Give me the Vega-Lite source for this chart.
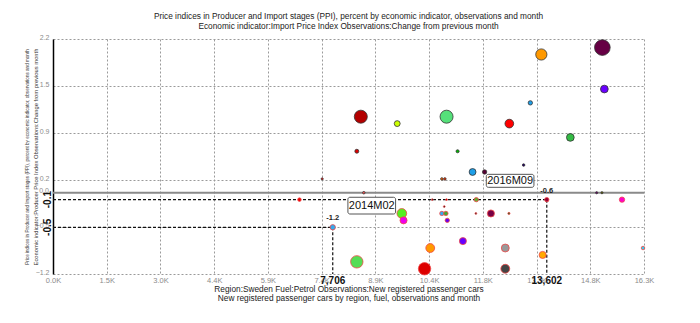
{
  "$schema": "https://vega.github.io/schema/vega-lite/v6.json",
  "width": 591,
  "height": 235,
  "autosize": {"type": "none"},
  "padding": {"left": 53, "top": 39, "right": 56, "bottom": 49},
  "background": "white",
  "config": {"font": "Liberation Sans", "view": {"stroke": null}},
  "title": {
    "text": ["Price indices in Producer and Import stages (PPI), percent by economic indicator, observations and month", "Economic indicator:Import Price Index Observations:Change from previous month"],
    "fontSize": 8.3, "fontWeight": "normal", "color": "#222", "anchor": "middle", "offset": 3, "lineHeight": 9.5
  },
  "datasets": {
    "points": [
      {"id": "a01", "x": 15133, "y": 2.1, "w": 78},
      {"id": "a02", "x": 13452, "y": 2.0, "w": 40},
      {"id": "a03", "x": 15188, "y": 1.5, "w": 19},
      {"id": "a04", "x": 13149, "y": 1.3, "w": 6},
      {"id": "a05", "x": 12570, "y": 1.0, "w": 24},
      {"id": "a06", "x": 14251, "y": 0.8, "w": 19},
      {"id": "a07", "x": 8479, "y": 1.1, "w": 54},
      {"id": "a08", "x": 9482, "y": 1.0, "w": 11},
      {"id": "a09", "x": 10841, "y": 1.1, "w": 54},
      {"id": "a10", "x": 8369, "y": 0.6, "w": 5},
      {"id": "a11", "x": 11145, "y": 0.6, "w": 3},
      {"id": "a12", "x": 12964, "y": 0.4, "w": 2},
      {"id": "a13", "x": 11558, "y": 0.3, "w": 15},
      {"id": "a14", "x": 11889, "y": 0.3, "w": 6},
      {"id": "a15", "x": 10712, "y": 0.2, "w": 2},
      {"id": "a16", "x": 10795, "y": 0.2, "w": 2},
      {"id": "a17", "x": 7415, "y": 0.2, "w": 1.5},
      {"id": "a18", "x": 8562, "y": 0.0, "w": 2},
      {"id": "a19", "x": 6789, "y": -0.1, "w": 4},
      {"id": "a20", "x": 10447, "y": -0.1, "w": 1},
      {"id": "a21", "x": 10841, "y": -0.1, "w": 1},
      {"id": "a22", "x": 11660, "y": -0.1, "w": 6},
      {"id": "a23", "x": 13602, "y": -0.1, "w": 6},
      {"id": "a24", "x": 14976, "y": 0.0, "w": 1.5},
      {"id": "a25", "x": 15122, "y": 0.0, "w": 1.5},
      {"id": "a26", "x": 15674, "y": -0.1, "w": 9},
      {"id": "a27", "x": 10778, "y": -0.2, "w": 1},
      {"id": "a28", "x": 9609, "y": -0.3, "w": 30},
      {"id": "a29", "x": 9656, "y": -0.4, "w": 16},
      {"id": "a30", "x": 10712, "y": -0.3, "w": 6},
      {"id": "a31", "x": 10822, "y": -0.3, "w": 6},
      {"id": "a32", "x": 10861, "y": -0.4, "w": 6},
      {"id": "a33", "x": 11649, "y": -0.3, "w": 1},
      {"id": "a34", "x": 12063, "y": -0.3, "w": 16},
      {"id": "a35", "x": 12559, "y": -0.3, "w": 1.5},
      {"id": "a36", "x": 7706, "y": -0.5, "w": 9},
      {"id": "a37", "x": 11291, "y": -0.7, "w": 16},
      {"id": "a38", "x": 10392, "y": -0.8, "w": 25},
      {"id": "a39", "x": 12459, "y": -0.8, "w": 20},
      {"id": "a40", "x": 13488, "y": -0.9, "w": 16},
      {"id": "a41", "x": 16253, "y": -0.8, "w": 4},
      {"id": "a42", "x": 8369, "y": -1.0, "w": 49},
      {"id": "a43", "x": 10235, "y": -1.1, "w": 49},
      {"id": "a44", "x": 12459, "y": -1.1, "w": 25}
    ],
    "crosshairs": [
      {"x": 0, "x2": 13602, "y": -0.1, "y2": -0.1},
      {"x": 13602, "x2": 13602, "y": -0.1, "y2": -1.176},
      {"x": 0, "x2": 7706, "y": -0.5, "y2": -0.5},
      {"x": 7706, "x2": 7706, "y": -0.5, "y2": -1.176}
    ],
    "boxes": [
      {"label": "2014M02", "x": 8124, "x2": 9437, "y": -0.066, "y2": -0.308, "cx": 8780, "cy": -0.187},
      {"label": "2016M09", "x": 11936, "x2": 13248, "y": 0.266, "y2": 0.078, "cx": 12592, "cy": 0.172}
    ],
    "valueNotes": [
      {"x": 7706, "y": -0.5, "label": "-1.2"},
      {"x": 13602, "y": -0.1, "label": "-0.6"}
    ],
    "xMarks": [
      {"x": 7706, "label": "7,706"},
      {"x": 13602, "label": "13,602"}
    ],
    "yMarks": [
      {"y": -0.1, "label": "-0.1"},
      {"y": -0.5, "label": "-0.5"}
    ],
    "zeroLabel": [
      {"y": 0, "label": "0.0"}
    ]
  },
  "layer": [
    {
      "layer": [
        {
          "data": {"values": [{"x": 0, "x2": 16280, "y": 0}]},
          "mark": {"type": "rule", "color": "#8a8a8a", "strokeWidth": 2},
          "encoding": {
            "x": {"field": "x", "type": "quantitative",
              "scale": {"domain": [0, 16280], "nice": false, "zero": false},
              "axis": {
                "values": [0, 1480, 2960, 4440, 5920, 7400, 8880, 10360, 11840, 13320, 14800, 16280],
                "labelExpr": "format(datum.value / 1000, '.1f') + 'K'",
                "labelFontSize": 7.5, "labelColor": "#8c8c8c", "labelPadding": 2, "labelFlush": false, "labelOverlap": false,
                "ticks": false, "tickSize": 0, "domain": false,
                "grid": true, "gridColor": "#9a9a9a", "gridDash": [2, 2], "gridWidth": 1,
                "title": ["Region:Sweden Fuel:Petrol Observations:New registered passenger cars", "New registered passenger cars by region, fuel, observations and month"],
                "titleFontSize": 8.3, "titleFontWeight": "normal", "titleColor": "#222", "titlePadding": 0.5, "titleLineHeight": 9
              }},
            "x2": {"field": "x2"},
            "y": {"field": "y", "type": "quantitative",
              "scale": {"domain": [-1.176, 2.224], "nice": false, "zero": false},
              "axis": {
                "values": [-1.176, -0.496, 0.184, 0.864, 1.544, 2.224],
                "format": ".1f",
                "labelFontSize": 7, "labelColor": "#8c8c8c", "labelBaseline": "alphabetic", "labelPadding": 4, "labelFlush": false, "labelOverlap": false,
                "ticks": false, "tickSize": 0,
                "domain": true, "domainColor": "#000", "domainWidth": 1.5,
                "grid": true, "gridColor": "#9a9a9a", "gridDash": [2, 2], "gridWidth": 1,
                "title": "Economic indicator:Producer Price Index Observations:Change from previous month",
                "titleFontSize": 5.8, "titleFontWeight": "normal", "titleColor": "#333",
                "titleX": -17.5, "titleY": 117.5, "titleAngle": 270, "titleAlign": "center", "titleBaseline": "middle"
              }}
          }
        },
        {
          "data": {"name": "crosshairs"},
          "mark": {"type": "rule", "color": "#111", "strokeWidth": 1.2, "strokeDash": [3, 2]},
          "encoding": {
            "x": {"field": "x", "type": "quantitative"},
            "x2": {"field": "x2"},
            "y": {"field": "y", "type": "quantitative"},
            "y2": {"field": "y2"}
          }
        },
        {
          "data": {"name": "points"},
          "mark": {"type": "point", "shape": "circle", "filled": true, "opacity": 1, "strokeWidth": 0.8},
          "encoding": {
            "x": {"field": "x", "type": "quantitative"},
            "y": {"field": "y", "type": "quantitative"},
            "size": {"field": "w", "type": "quantitative", "scale": {"type": "linear", "domain": [0, 100], "range": [0, 314]}, "legend": null},
            "color": {"field": "id", "type": "nominal", "legend": null,
              "scale": {
                "domain": ["a01","a02","a03","a04","a05","a06","a07","a08","a09","a10","a11","a12","a13","a14","a15","a16","a17","a18","a19","a20","a21","a22","a23","a24","a25","a26","a27","a28","a29","a30","a31","a32","a33","a34","a35","a36","a37","a38","a39","a40","a41","a42","a43","a44"],
                "range": ["#660044","#ff9900","#6a00ff","#1e9fe8","#ff0000","#33bb44","#b30000","#ccff00","#55e07a","#dd0000","#00bb00","#220066","#1e9fe8","#550033","#ff6600","#ff3300","#ff2222","#ff5555","#ee0000","#111111","#cc0000","#66aa33","#990033","#660066","#666600","#ff00cc","#111111","#55ee22","#ee00ee","#33aaee","#44aa33","#6600ee","#111111","#770044","#226622","#33aaee","#6600ff","#ff9900","#999999","#ffaa00","#33ccee","#55dd55","#dd0000","#444444"]
              }},
            "stroke": {"condition": {"test": "datum.y < 0", "value": "#f04848"}, "value": "#333333"}
          }
        },
        {
          "data": {"name": "boxes"},
          "mark": {"type": "rect", "fill": "white", "stroke": "#555", "strokeWidth": 1, "cornerRadius": 2},
          "encoding": {
            "x": {"field": "x", "type": "quantitative"},
            "x2": {"field": "x2"},
            "y": {"field": "y", "type": "quantitative"},
            "y2": {"field": "y2"}
          }
        },
        {
          "data": {"name": "boxes"},
          "mark": {"type": "text", "fontSize": 11, "color": "#111", "align": "center", "baseline": "middle"},
          "encoding": {
            "x": {"field": "cx", "type": "quantitative"},
            "y": {"field": "cy", "type": "quantitative"},
            "text": {"field": "label"}
          }
        },
        {
          "data": {"name": "valueNotes"},
          "mark": {"type": "text", "fontSize": 7.5, "fontWeight": "bold", "color": "#222", "align": "center", "baseline": "middle", "dy": -9},
          "encoding": {
            "x": {"field": "x", "type": "quantitative"},
            "y": {"field": "y", "type": "quantitative"},
            "text": {"field": "label"}
          }
        },
        {
          "data": {"name": "xMarks"},
          "mark": {"type": "text", "fontSize": 10, "fontWeight": "bold", "color": "#111", "align": "center", "baseline": "middle", "dy": 7},
          "encoding": {
            "x": {"field": "x", "type": "quantitative"},
            "y": {"datum": -1.176, "type": "quantitative"},
            "text": {"field": "label"}
          }
        },
        {
          "data": {"name": "yMarks"},
          "mark": {"type": "text", "fontSize": 10, "fontWeight": "bold", "color": "#111", "align": "center", "baseline": "middle", "angle": 270, "dy": -5.5},
          "encoding": {
            "x": {"datum": 0, "type": "quantitative"},
            "y": {"field": "y", "type": "quantitative"},
            "text": {"field": "label"}
          }
        },
        {
          "data": {"name": "zeroLabel"},
          "mark": {"type": "text", "fontSize": 7, "color": "#8c8c8c", "align": "right", "baseline": "alphabetic", "dx": -4},
          "encoding": {
            "x": {"datum": 0, "type": "quantitative"},
            "y": {"field": "y", "type": "quantitative"},
            "text": {"field": "label"}
          }
        }
      ]
    },
    {
      "data": {"values": [{"y": 0}]},
      "mark": {"type": "rule", "opacity": 0},
      "encoding": {
        "y": {"field": "y", "type": "quantitative",
          "scale": {"domain": [-1.176, 2.224], "nice": false, "zero": false},
          "axis": {
            "orient": "left", "labels": false, "ticks": false, "domain": false, "grid": false,
            "title": "Price indices in Producer and Import stages (PPI), percent by economic indicator, observations and month",
            "titleFontSize": 4.6, "titleFontWeight": "normal", "titleColor": "#333",
            "titleX": -26, "titleY": 117.5, "titleAngle": 270, "titleAlign": "center", "titleBaseline": "middle"
          }}
      }
    }
  ],
  "resolve": {"scale": {"y": "independent"}, "axis": {"y": "independent"}}
}
